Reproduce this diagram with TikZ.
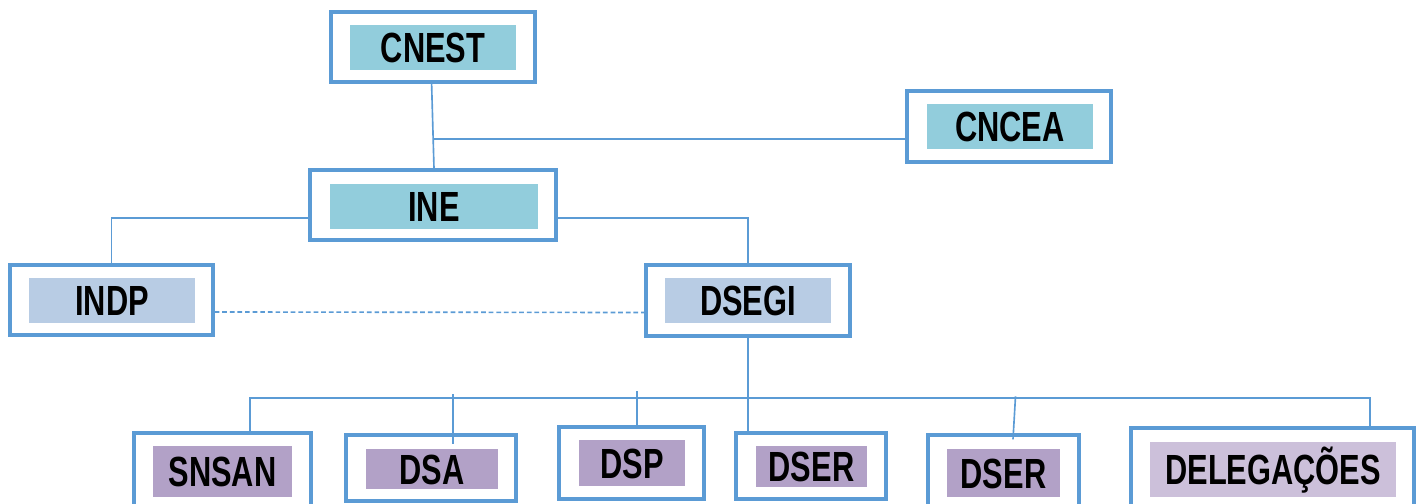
\documentclass[tikz,border=0pt]{standalone}
\usepackage{fontspec}
\newfontfamily\orgfont[FakeStretch=0.73]{Liberation Sans}
\definecolor{lineblue}{RGB}{91,155,213}
\definecolor{topfill}{RGB}{146,205,220}
\definecolor{midfill}{RGB}{184,204,228}
\definecolor{lowfill}{RGB}{178,161,199}
\definecolor{delegfill}{RGB}{204,192,218}

\begin{document}
\begin{tikzpicture}[
        x=0.03cm, y=-0.03cm,
        frame/.style={rectangle, draw=lineblue, line width=2.7pt, inner sep=0pt},
        label/.style={rectangle, inner sep=0pt, text height=25.6pt, text depth=0pt, text centered, font=\orgfont\bfseries\fontsize{36}{40}\selectfont},
        link/.style={draw=lineblue, line width=1.4pt},
        dashlink/.style={link, dash pattern=on 4pt off 2.5pt}
    ]
        \useasboundingbox (0,0) rectangle (1419,504);
        \clip (0,0) rectangle (1419,504);

        % Frames
        \node (cnest) [frame, minimum width=6.12cm, minimum height=2.1cm] at (433,47) {};
        \node (cncea) [frame, minimum width=6.12cm, minimum height=2.13cm] at (1009,126.5) {};
        \node (ine) [frame, minimum width=7.38cm, minimum height=2.1cm] at (433,205) {};
        \node (indp) [frame, minimum width=6.09cm, minimum height=2.1cm] at (111.5,300) {};
        \node (dsegi) [frame, minimum width=6.12cm, minimum height=2.13cm] at (748,300.5) {};
        \node (snsan) [frame, minimum width=5.31cm, minimum height=2.7cm] at (222.5,478) {};
        \node (dsa) [frame, minimum width=5.1cm, minimum height=1.98cm] at (431,468) {};
        \node (dsp) [frame, minimum width=4.35cm, minimum height=2.16cm] at (631.5,463) {};
        \node (dsera) [frame, minimum width=4.5cm, minimum height=1.98cm] at (811,466) {};
        \node (dserb) [frame, minimum width=4.53cm, minimum height=2.7cm] at (1003.5,480) {};
        \node (deleg) [frame, minimum width=8.49cm, minimum height=3cm] at (1272.5,478) {};

        % Labels
        \node (cnest-txt) [label, fill=topfill, minimum width=4.98cm, minimum height=1.35cm] at (433,47.5) {CNEST};
        \node (cncea-txt) [label, fill=topfill, minimum width=4.98cm, minimum height=1.35cm] at (1010,126.5) {CNCEA};
        \node (ine-txt) [label, fill=topfill, minimum width=6.24cm, minimum height=1.35cm] at (434,206.5) {INE};
        \node (indp-txt) [label, fill=midfill, minimum width=4.98cm, minimum height=1.35cm] at (112,300.5) {INDP};
        \node (dsegi-txt) [label, fill=midfill, minimum width=4.98cm, minimum height=1.35cm] at (748,300.5) {DSEGI};
        \node (snsan-txt) [label, fill=lowfill, minimum width=4.17cm, minimum height=1.53cm] at (222.5,471.5) {SNSAN};
        \node (dsa-txt) [label, fill=lowfill, minimum width=3.96cm, minimum height=1.2cm] at (432,469) {DSA};
        \node (dsp-txt) [label, fill=lowfill, minimum width=3.18cm, minimum height=1.38cm] at (632,463) {DSP};
        \node (dsera-txt) [label, fill=lowfill, minimum width=3.33cm, minimum height=1.23cm] at (811.5,466.5) {DSER};
        \node (dserb-txt) [label, fill=lowfill, minimum width=3.39cm, minimum height=1.44cm] at (1003.5,473) {DSER};
        \node (deleg-txt) [label, fill=delegfill, minimum width=7.38cm, minimum height=1.65cm] at (1273,469.5) {DELEGAÇÕES};

        % Lines
        \coordinate (jcncea) at (433.5,139);
        \coordinate (busL) at (250,398);
        \coordinate (busR) at (1370,398);
        \draw [link] ([shift={(-1.4,0)}]cnest.south) -- ([shift={(1,0)}]ine.north);
        \draw [link] (jcncea) -- (jcncea -| cncea.west);
        \draw [link] ([shift={(0,13)}]ine.west) -| (indp.north);
        \draw [link] ([shift={(0,13)}]ine.east) -| (dsegi.north);
        \draw [dashlink] ([shift={(0,12)}]indp.east) -- ([shift={(0,12)}]dsegi.west);

        \draw [link] (dsegi.south) -- (dsegi.south |- dsera.north);
        \draw [link] (busL |- snsan.north) -- (busL) -- (busR) -- ([shift={(0,4)}]busR |- deleg.north);
        \draw [link] ([shift={(22,-39)}]dsa.north) -- ([shift={(22,11)}]dsa.north);
        \draw [link] ([shift={(5.5,-34)}]dsp.north) -- ([shift={(5.5,4)}]dsp.north);
        \draw [link] ([shift={(12,-37)}]dserb.north) -- ([shift={(9.5,6)}]dserb.north);
    \end{tikzpicture}
\end{document}
